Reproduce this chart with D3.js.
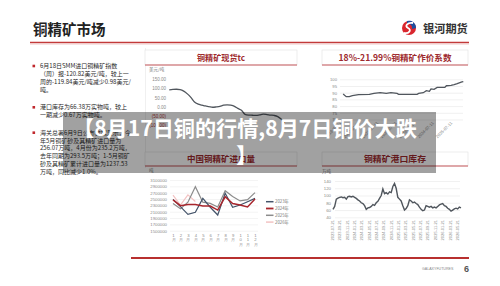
<!DOCTYPE html>
<html>
<head>
<meta charset="utf-8">
<script src="https://cdn.jsdelivr.net/npm/d3@7"></script>
<style>
  html, body { margin: 0; padding: 0; background: #fff; }
  svg { display: block; font-family: "Noto Sans CJK SC", "Noto Sans", sans-serif; }
</style>
</head>
<body>
<div id="chart"></div>
<script>
// ---- data ----
const tcDates = ["2023-08-16","2023-09-16","2023-10-16","2023-11-16","2023-12-16","2024-01-16","2024-02-16","2024-03-16","2024-04-16","2024-05-16","2024-06-16","2024-07-16","2024-08-16","2024-09-16","2024-10-16","2024-11-16","2024-12-16","2025-01-16","2025-02-16","2025-03-16","2025-04-16","2025-05-16","2025-06-16","2025-07-16","2025-08-16","2025-09-16","2025-10-16","2025-11-16","2025-12-16","2026-01-16","2026-02-16","2026-03-16","2026-04-16"];
const tcValues = [92,94,95,93,85,70,50,26,15,10,5,2,-2,0,3,9,11,9,3,-8,-18,-40,-44,-45,-46,-43,-39,-41,-44,-46,-52,-65,-85];
const tcTicks = ["2023-06-16","2024-06-16","2025-06-16","2026-06-16"];

const coefDates = ["2019-09-11","2019-11-11","2020-01-11","2020-03-11","2020-07-11","2021-02-11","2021-05-11","2021-09-11","2022-01-11","2022-04-11","2022-08-11","2022-09-11","2023-02-11","2023-09-11","2023-10-11","2024-01-11","2024-03-11","2024-05-11","2024-06-11","2024-08-11","2024-10-11","2025-03-11","2025-04-11","2025-07-11","2025-09-11","2025-11-11","2026-02-11","2026-03-11"];
const coefValues = [89.0,87.0,87.0,87.8,88.5,88.8,89.5,90.0,89.5,90.0,89.5,88.8,88.8,88.8,89.5,90.0,91.5,91.0,92.8,92.5,94.0,94.0,95.2,95.5,96.0,96.7,98.0,98.2];
const coefTicks = ["2019-07-11","2020-07-11","2021-07-11","2022-07-11","2023-07-11","2024-07-11","2025-07-11"];

const months = ["1月","2月","3月","4月","5月","6月","7月","8月","9月","10月","11月","12月"];
const imp2023 = [2490000,2260000,2015000,2080000,2520000,2240000,1995000,2680000,2240000,2310000,2415000,2520000];
const imp2024 = [2470000,2290000,2330000,2330000,2280000,2280000,2150000,2570000,2360000,2310000,2250000,2500000];
const imp2025 = [2360000,2190000,2400000,2890000,2400000,2360000,2250000,2760000,2580000,2440000,2480000,2700000];
const imp2026 = [2620000,2310000,2630000,2420000];
const impYears = ["2023年","2024年","2025年","2026年"];

const portLabels = ["2023-07-21","2023-09-21","2023-11-21","2024-01-21","2024-03-21","2024-05-21","2024-07-21","2024-09-21","2024-11-21","2025-01-21","2025-03-21","2025-05-21","2025-07-21","2025-09-21","2025-11-21","2026-01-21","2026-03-21","2026-05-21"];
const portValues = [62,70,90,93,95,96,94,95,90,97,98,96,98,95,92,88,85,80,78,72,62,66,67,70,75,73,80,84,92,100,118,105,108,104,110,108,125,133,120,95,90,85,72,60,64,72,88,85,80,82,78,75,68,62,58,60,72,70,68,70,66,68,66,70,74,76,78,72,70,65,62,57,60,63,65,63,68,66];

const notes = [
  ["6月18日SMM进口铜精矿指数","（周）报-120.82美元/吨，较上一","周的-119.84美元/吨减少0.98美元/","吨。"],
  ["港口库存为66.38万实物吨，较上","一期减少0.67万实物吨。"],
  ["海关总署6月9日公布数据显示，今","年5月铜矿砂及其精矿进口量为","256.07万吨，4月份为235.2万吨，","去年同期为293.5万吨；1-5月铜矿","砂及其精矿累计进口量为1237.53","万吨，同比减少1.0%。"]
];

const parse = d3.timeParse("%Y-%m-%d");
const DARK = "#50565d";

const svg = d3.select("#chart").append("svg")
  .attr("width", 500).attr("height", 286);

svg.append("rect").attr("width", 500).attr("height", 286).attr("fill", "#fff");

// ---- header ----
svg.append("text").attr("x", 33).attr("y", 35)
  .attr("font-size", 14.5).attr("font-weight", "bold").attr("fill", "#222")
  .text("铜精矿市场");

svg.append("line").attr("x1", 30).attr("x2", 469).attr("y1", 42.5).attr("y2", 42.5)
  .attr("stroke", "#c23a3a").attr("stroke-width", 1.5);
svg.append("line").attr("x1", 30).attr("x2", 469).attr("y1", 44).attr("y2", 44)
  .attr("stroke", "#f0c8c8").attr("stroke-width", 1);

// logo
const logo = svg.append("g").attr("transform", "translate(409,28)");
logo.append("circle").attr("r", 7).attr("fill", "#d9262e");
logo.append("path").attr("d", "M-2,-7 A7,7 0 0 1 7,0 L3,1 A4,4 0 0 0 -2,-4 Z").attr("fill", "#1d4fa0");
logo.append("path").attr("d", "M4,-5 C-1,-6 -5,-2 -1,0 C3,2 0,6 -5,5")
  .attr("fill", "none").attr("stroke", "#fff").attr("stroke-width", 1.8);
svg.append("text").attr("x", 423).attr("y", 33)
  .attr("font-size", 11.2).attr("font-weight", "bold").attr("fill", "#333")
  .text("银河期货");

// ---- notes ----
const noteTops = [66, 107.3, 132.7];
notes.forEach((lines, i) => {
  svg.append("rect").attr("x", 32.5).attr("y", noteTops[i] - 1.3)
    .attr("width", 2.6).attr("height", 2.6).attr("fill", "#c0282d");
  lines.forEach((l, j) => {
    svg.append("text").attr("x", 40).attr("y", noteTops[i] + j * 7.8 + 2.1)
      .attr("font-size", 6).attr("fill", "#2a2a2a").text(l);
  });
});

// ---- helpers ----
function titleBox(x0, x1, y0, y1, label, width) {
  svg.append("rect").attr("x", x0).attr("y", y0).attr("width", x1 - x0).attr("height", y1 - y0)
    .attr("fill", "#fff").attr("stroke", "#e2e2e2").attr("stroke-width", 0.6);
  svg.append("line").attr("x1", x0).attr("x2", x1).attr("y1", y1).attr("y2", y1)
    .attr("stroke", "#c7595c").attr("stroke-width", 1);
  svg.append("text").attr("x", (x0 + x1) / 2).attr("y", y1 - 4.2)
    .attr("text-anchor", "middle").attr("font-size", 8.5).attr("font-weight", "bold")
    .attr("fill", "#9e2a2e").attr("textLength", width).attr("lengthAdjust", "spacingAndGlyphs")
    .text(label);
}
function styleAxis(g, size) {
  g.select(".domain").remove();
  g.selectAll(".tick text").attr("font-size", size).attr("fill", "#8a8a8a")
    .attr("font-family", "'Liberation Sans', sans-serif");
}

svg.append("line").attr("x1", 145.5).attr("x2", 145.5).attr("y1", 48).attr("y2", 168)
  .attr("stroke", "#e6e6e6").attr("stroke-width", 0.6);

// ---- chart 1: tc ----
titleBox(145, 297, 50, 65, "铜精矿现货tc", 48);
const x1 = d3.scaleTime().domain([parse("2023-06-16"), parse("2026-06-16")]).range([162, 292]);
const y1 = d3.scaleLinear().domain([-100, 150]).range([125.5, 79]);

svg.append("text").attr("x", 149).attr("y", 71).attr("font-size", 4.5).attr("fill", "#777").text("美元/吨");

svg.append("g").attr("transform", "translate(167,0)")
  .call(d3.axisLeft(y1).tickValues([-100, -50, 0, 50, 100, 150]).tickSize(0).tickPadding(1)
    .tickFormat(d => d < 0 ? `(${Math.abs(d).toFixed(2)})` : d.toFixed(2)))
  .call(g => styleAxis(g, 4.5))
  .call(g => g.selectAll(".tick text").filter(d => d < 0).attr("fill", "#a33"));

svg.append("defs").append("clipPath").attr("id", "c1clip")
  .append("rect").attr("x", 140).attr("y", 120).attr("width", 151).attr("height", 20);

svg.append("g").attr("transform", "translate(0,128.5)").attr("clip-path", "url(#c1clip)")
  .call(d3.axisBottom(x1).tickValues(tcTicks.map(parse)).tickSize(0).tickPadding(1.5)
    .tickFormat(d3.timeFormat("%Y-%m-%d")))
  .call(g => styleAxis(g, 4.5));

svg.append("path")
  .datum(tcDates.map((d, i) => [parse(d), tcValues[i]]))
  .attr("fill", "none").attr("stroke", DARK).attr("stroke-width", 1.3)
  .attr("d", d3.line().x(d => x1(d[0])).y(d => y1(d[1])).curve(d3.curveMonotoneX));

// ---- chart 2: coefficient ----
titleBox(322, 468, 50, 65, "18%-21.99%铜精矿作价系数", 113);
const x2 = d3.scaleTime().domain([parse("2019-07-11"), parse("2025-07-11")]).range([340, 451]);
const y2 = d3.scaleLinear().domain([70, 100]).range([119.5, 79.3]);

svg.append("g").attr("transform", "translate(340,0)")
  .call(d3.axisLeft(y2).tickValues([70, 75, 80, 85, 90, 95, 100]).tickSize(-123).tickPadding(3))
  .call(g => styleAxis(g, 4.2))
  .call(g => g.selectAll(".tick line").attr("stroke", "#e6e6e6").attr("stroke-width", 0.6));

svg.append("g").attr("transform", "translate(0,121)")
  .call(d3.axisBottom(x2).tickValues(coefTicks.map(parse)).tickSize(0)
    .tickFormat(d3.timeFormat("%Y-%m-%d")))
  .call(g => styleAxis(g, 4.2))
  .call(g => g.selectAll(".tick text").attr("text-anchor", "end")
    .attr("transform", "rotate(-45)").attr("x", -1).attr("y", 1).attr("dy", "0.35em"));

svg.append("path")
  .datum(coefDates.map((d, i) => [parse(d), coefValues[i]]))
  .attr("fill", "none").attr("stroke", DARK).attr("stroke-width", 1.3)
  .attr("d", d3.line().x(d => x2(d[0])).y(d => y2(d[1])));

// ---- chart 3: imports ----
titleBox(145, 297, 152, 166, "中国铜精矿进口量", 68);
const x3 = d3.scalePoint().domain(months).range([173, 255]);
const y3 = d3.scaleLinear().domain([1500000, 3100000]).range([230.7, 180]);

svg.append("text").attr("x", 149).attr("y", 172).attr("font-size", 4.5).attr("fill", "#777").text("吨");

svg.append("g").attr("transform", "translate(170,0)")
  .call(d3.axisLeft(y3).tickValues(d3.range(1500000, 3100001, 200000)).tickSize(-88).tickPadding(3)
    .tickFormat(d3.format("d")))
  .call(g => styleAxis(g, 4.3))
  .call(g => g.selectAll(".tick line").attr("stroke", "#ececec").attr("stroke-width", 0.6));

svg.append("g").attr("transform", "translate(0,231)")
  .call(d3.axisBottom(x3).tickSize(0).tickPadding(2))
  .call(g => styleAxis(g, 4.2))
  .call(g => g.selectAll(".tick text").each(function(d) {
    const t = d3.select(this).text(null);
    Array.from(d).forEach((ch, i) => {
      t.append("tspan").attr("x", 0).attr("dy", i ? "1.05em" : "0.9em").text(ch);
    });
  }));

const impSeries = [
  { name: impYears[0], values: imp2023, color: "#44546a", w: 1.2 },
  { name: impYears[1], values: imp2024, color: "#a8262d", w: 1.5 },
  { name: impYears[2], values: imp2025, color: "#8c8c8c", w: 1.2 },
  { name: impYears[3], values: imp2026, color: "#f3c3c3", w: 1.2 }
];
const line3 = d3.line().x((d, i) => x3(months[i])).y(d => y3(d));
[impSeries[3], impSeries[2], impSeries[0], impSeries[1]].forEach(s => {
  svg.append("path").datum(s.values).attr("fill", "none")
    .attr("stroke", s.color).attr("stroke-width", s.w).attr("d", line3);
});
const leg = svg.append("g").selectAll("g").data(impSeries).join("g")
  .attr("transform", (d, i) => `translate(266,${201.7 + i * 6.8})`);
leg.append("line").attr("x1", 0).attr("x2", 7.5)
  .attr("stroke", d => d.color).attr("stroke-width", d => d.w + 0.3);
leg.append("text").attr("x", 9).attr("dy", "0.35em").attr("font-size", 4.3)
  .attr("fill", "#777").text(d => d.name);

// ---- chart 4: port stock ----
titleBox(322, 468, 152, 166, "铜精矿港口库存", 62);
const x4 = d3.scaleLinear().domain([0, portValues.length - 1]).range([333, 461]);
const x4l = d3.scalePoint().domain(portLabels).range([332, 457]);
const y4 = d3.scaleLinear().domain([40, 140]).range([217.3, 181]);

svg.append("text").attr("x", 322).attr("y", 173).attr("font-size", 4.5).attr("fill", "#777").text("万吨");

svg.append("g").attr("transform", "translate(335,0)")
  .call(d3.axisLeft(y4).tickValues([40, 60, 80, 100, 120, 140]).tickSize(-125).tickPadding(4))
  .call(g => styleAxis(g, 4.3))
  .call(g => g.selectAll(".tick line").attr("stroke", "#e8e8e8").attr("stroke-width", 0.6));

svg.append("g").attr("transform", "translate(0,219)")
  .call(d3.axisBottom(x4l).tickSize(0))
  .call(g => styleAxis(g, 4))
  .call(g => g.selectAll(".tick text").attr("text-anchor", "end")
    .attr("transform", "rotate(-90)").attr("x", -1).attr("y", 0).attr("dy", "0.35em"));

svg.append("path").datum(portValues).attr("fill", "none")
  .attr("stroke", DARK).attr("stroke-width", 1.4)
  .attr("d", d3.line().x((d, i) => x4(i)).y(d => y4(d)));

// ---- footer ----
svg.append("line").attr("x1", 131).attr("x2", 469).attr("y1", 258).attr("y2", 258)
  .attr("stroke", "#b8302f").attr("stroke-width", 2);
svg.append("text").attr("x", 422).attr("y", 270).attr("font-size", 3.6).attr("fill", "#888")
  .attr("font-family", "'Liberation Sans', sans-serif").text("GALAXYFUTURES");
svg.append("text").attr("x", 464).attr("y", 272).attr("font-size", 9).attr("font-weight", "bold")
  .attr("fill", "#555").attr("font-family", "'Liberation Sans', sans-serif").text("6");

// ---- overlay title ----
svg.append("rect").attr("x", 63).attr("y", 112).attr("width", 373).attr("height", 61)
  .attr("fill", "rgba(0,0,0,0.37)");
svg.append("text").attr("x", 73).attr("y", 136).attr("font-size", 21).attr("font-weight", "bold")
  .attr("fill", "#fff").attr("textLength", 344).attr("lengthAdjust", "spacingAndGlyphs")
  .text("【8月17日铜的行情,8月7日铜价大跌");
svg.append("text").attr("x", 236).attr("y", 163).attr("font-size", 21).attr("font-weight", "bold")
  .attr("fill", "#fff").text("】");
</script>
</body>
</html>
